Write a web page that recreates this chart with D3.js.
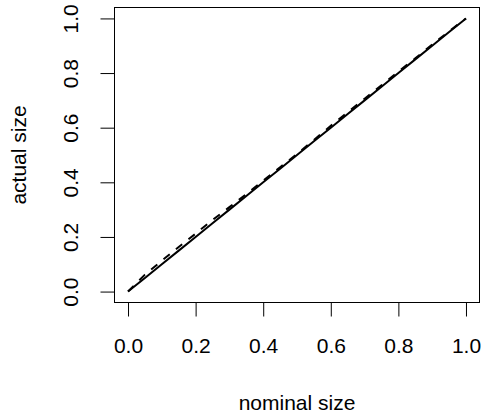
<!DOCTYPE html>
<html>
<head>
<meta charset="utf-8">
<script src="https://cdn.jsdelivr.net/npm/d3@7"></script>
<style>
  body { margin: 0; background: #fff; }
  text { font-family: "Liberation Sans", Arial, sans-serif; fill: #000; }
</style>
</head>
<body>
<div id="target"></div>
<script>
let width = 485,
  height = 417;

// data
let nominal = [0, 0.05, 0.1, 0.15, 0.2, 0.25, 0.3, 0.35, 0.4, 0.45, 0.5,
  0.55, 0.6, 0.65, 0.7, 0.75, 0.8, 0.85, 0.9, 0.95, 1];
let actual = [0, 0.062, 0.113, 0.163, 0.212, 0.262, 0.309, 0.357, 0.406, 0.455, 0.504,
  0.555, 0.607, 0.656, 0.706, 0.755, 0.805, 0.854, 0.904, 0.953, 1];
let tickValues = [0, 0.2, 0.4, 0.6, 0.8, 1.0];

// plot region (R style, 4% padding)
let boxLeft = 114.5, boxRight = 479.5, boxTop = 7.5, boxBottom = 302.5;
let padX = (boxRight - boxLeft) * 0.04 / 1.08,
  padY = (boxBottom - boxTop) * 0.04 / 1.08;

let x = d3.scaleLinear().domain([0, 1]).range([boxLeft + padX, boxRight - padX]);
let y = d3.scaleLinear().domain([0, 1]).range([boxBottom - padY, boxTop + padY]);

let svg = d3.select("#target").append("svg")
  .attr("width", width)
  .attr("height", height);

// reference line y = x
svg.append("path")
  .datum(nominal)
  .attr("d", d3.line().x(d => x(d)).y(d => y(d)))
  .attr("fill", "none")
  .attr("stroke", "#000")
  .attr("stroke-width", 2);

// actual size (dashed)
svg.append("path")
  .datum(nominal.map((d, i) => [d, actual[i]]))
  .attr("d", d3.line().x(d => x(d[0])).y(d => y(d[1])))
  .attr("fill", "none")
  .attr("stroke", "#000")
  .attr("stroke-width", 2)
  .attr("stroke-dasharray", "8,8");

// box
svg.append("rect")
  .attr("x", boxLeft)
  .attr("y", boxTop)
  .attr("width", boxRight - boxLeft)
  .attr("height", boxBottom - boxTop)
  .attr("fill", "none")
  .attr("stroke", "#000")
  .attr("stroke-width", 1);

let fmt = d3.format(".1f");

// x axis
let xAxis = svg.append("g")
  .attr("transform", "translate(0," + boxBottom + ")")
  .call(d3.axisBottom(x).tickValues(tickValues).tickFormat(fmt).tickSize(14).tickPadding(22));
xAxis.select(".domain").attr("d", "M" + x(0) + ",0H" + x(1)).attr("stroke-width", 1);
xAxis.selectAll("text").attr("font-size", 21).attr("font-family", "Liberation Sans, Arial, sans-serif");

// y axis
let yAxis = svg.append("g")
  .attr("transform", "translate(" + boxLeft + ",0)")
  .call(d3.axisLeft(y).tickValues(tickValues).tickFormat(fmt).tickSize(14));
yAxis.select(".domain").attr("d", "M0," + y(0) + "V" + y(1)).attr("stroke-width", 1);
yAxis.selectAll(".tick text")
  .attr("font-size", 21)
  .attr("font-family", "Liberation Sans, Arial, sans-serif")
  .attr("text-anchor", "middle")
  .attr("dy", 0)
  .attr("x", 0)
  .attr("y", 0)
  .attr("transform", "translate(" + (78 - boxLeft) + ",0) rotate(-90)");

// titles
svg.append("text")
  .attr("x", (boxLeft + boxRight) / 2)
  .attr("y", 410)
  .attr("text-anchor", "middle")
  .attr("font-size", 21)
  .text("nominal size");

svg.append("text")
  .attr("transform", "translate(26," + (boxTop + boxBottom) / 2 + ") rotate(-90)")
  .attr("text-anchor", "middle")
  .attr("font-size", 21)
  .text("actual size");
</script>
</body>
</html>
